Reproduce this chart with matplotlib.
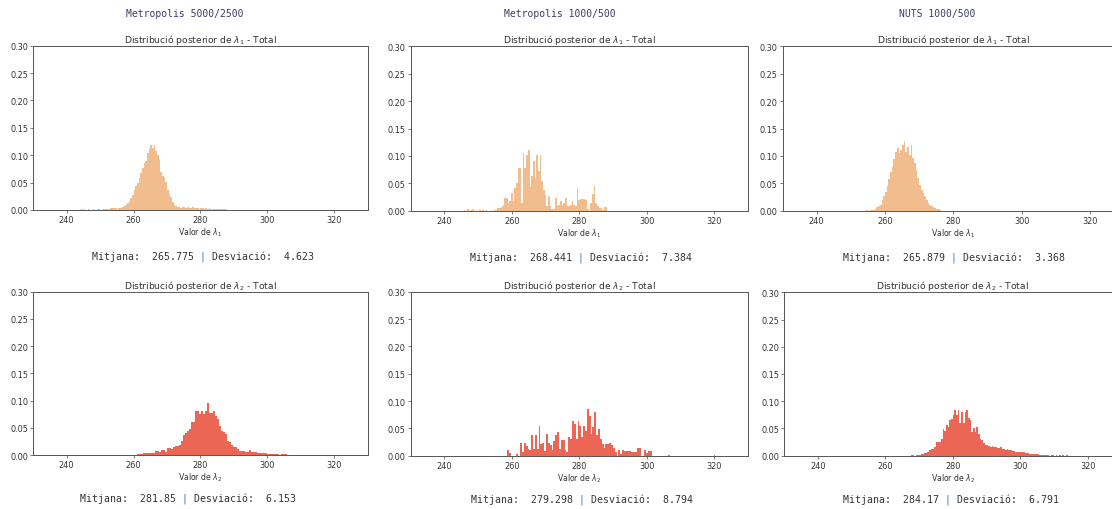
import numpy as np
import matplotlib.pyplot as plt

# column headers (sampler / draws / tune)
samplers = ["Metropolis 5000/2500", "Metropolis 1000/500", "NUTS 1000/500"]

# posterior summaries printed under each histogram
lam1_means = [265.775, 268.441, 265.879]
lam1_sds = [4.623, 7.384, 3.368]
lam2_means = [281.85, 279.298, 284.17]
lam2_sds = [6.153, 8.794, 6.791]

# histogram densities: first bin edge, bin width, bar heights
lam1_m5000_start, lam1_m5000_width = 244.0, 0.5
lam1_m5000 = [
    0.001, 0.0, 0.001, 0.0, 0.0, 0.001, 0.0, 0.0, 0.001, 0.0,
    0.001, 0.001, 0.0, 0.001, 0.001, 0.002, 0.002, 0.002, 0.003, 0.004,
    0.003, 0.003, 0.002, 0.003, 0.004, 0.005, 0.007, 0.009, 0.012, 0.016,
    0.022, 0.028, 0.036, 0.043, 0.050, 0.058, 0.068, 0.077, 0.085, 0.090,
    0.104, 0.112, 0.118, 0.113, 0.119, 0.108, 0.100, 0.093, 0.070, 0.062,
    0.058, 0.052, 0.037, 0.030, 0.024, 0.015, 0.010, 0.007, 0.006, 0.005,
    0.004, 0.006, 0.005, 0.004, 0.005, 0.004, 0.003, 0.005, 0.004, 0.003,
    0.004, 0.002, 0.004, 0.003, 0.002, 0.003, 0.002, 0.003, 0.002, 0.001,
    0.002, 0.001, 0.002, 0.001, 0.001, 0.001, 0.001, 0.001,
]

lam1_m1000_start, lam1_m1000_width = 245.75, 0.5
lam1_m1000 = [
    0.002, 0.0, 0.003, 0.0, 0.002, 0.003, 0.0, 0.002, 0.0, 0.001,
    0.0, 0.001, 0.0, 0.001, 0.0, 0.0, 0.001, 0.0, 0.001, 0.002,
    0.005, 0.005, 0.006, 0.010, 0.023, 0.023, 0.014, 0.017, 0.032, 0.017,
    0.041, 0.050, 0.078, 0.078, 0.014, 0.105, 0.078, 0.102, 0.110, 0.044,
    0.063, 0.091, 0.060, 0.102, 0.072, 0.101, 0.054, 0.038, 0.029, 0.008,
    0.026, 0.008, 0.004, 0.004, 0.024, 0.008, 0.011, 0.017, 0.011, 0.014,
    0.023, 0.008, 0.008, 0.011, 0.017, 0.011, 0.008, 0.041, 0.020, 0.021,
    0.021, 0.021, 0.020, 0.004, 0.0, 0.014, 0.030, 0.045, 0.014, 0.008,
    0.005, 0.005, 0.002, 0.006, 0.006,
]

lam1_nuts_start, lam1_nuts_width = 254.5, 0.5
lam1_nuts = [
    0.001, 0.0, 0.001, 0.001, 0.002, 0.004, 0.006, 0.009, 0.011, 0.020,
    0.026, 0.035, 0.045, 0.058, 0.070, 0.080, 0.094, 0.108, 0.114, 0.105,
    0.110, 0.120, 0.128, 0.108, 0.116, 0.102, 0.120, 0.096, 0.087, 0.075,
    0.060, 0.047, 0.038, 0.032, 0.026, 0.020, 0.014, 0.011, 0.008, 0.006,
    0.005, 0.003, 0.003, 0.001,
]

lam2_m5000_start, lam2_m5000_width = 261.0, 0.6
lam2_m5000 = [
    0.001, 0.001, 0.002, 0.003, 0.003, 0.003, 0.003, 0.004, 0.004, 0.007,
    0.007, 0.005, 0.009, 0.009, 0.005, 0.012, 0.012, 0.011, 0.014, 0.016,
    0.016, 0.018, 0.026, 0.036, 0.040, 0.045, 0.048, 0.060, 0.061, 0.080,
    0.080, 0.075, 0.080, 0.075, 0.080, 0.095, 0.078, 0.077, 0.081, 0.072,
    0.066, 0.053, 0.045, 0.042, 0.039, 0.026, 0.023, 0.018, 0.014, 0.014,
    0.011, 0.008, 0.008, 0.008, 0.005, 0.005, 0.009, 0.005, 0.005, 0.006,
    0.004, 0.004, 0.003, 0.003, 0.003, 0.002, 0.002, 0.002, 0.001, 0.001,
    0.001, 0.0, 0.001, 0.001, 0.001,
]

lam2_m1000_start, lam2_m1000_width = 258.6, 0.55
lam2_m1000 = [
    0.010, 0.005, 0.0, 0.0, 0.0, 0.003, 0.0, 0.023, 0.006, 0.023,
    0.018, 0.012, 0.011, 0.037, 0.012, 0.037, 0.013, 0.054, 0.021, 0.023,
    0.009, 0.040, 0.023, 0.020, 0.011, 0.026, 0.037, 0.044, 0.013, 0.029,
    0.028, 0.011, 0.006, 0.034, 0.031, 0.063, 0.058, 0.031, 0.064, 0.054,
    0.034, 0.055, 0.046, 0.085, 0.073, 0.040, 0.052, 0.080, 0.037, 0.049,
    0.031, 0.021, 0.015, 0.021, 0.021, 0.023, 0.020, 0.015, 0.006, 0.0,
    0.010, 0.003, 0.011, 0.009, 0.009, 0.009, 0.009, 0.007, 0.007, 0.006,
    0.014, 0.014, 0.0, 0.0, 0.010, 0.005, 0.009, 0.009,
]
# isolated draws far in the right tail
lam2_m1000_tail_x = [306.3, 319.8]
lam2_m1000_tail_h = [0.002, 0.002]

lam2_nuts_start, lam2_nuts_width = 267.5, 0.5
lam2_nuts = [
    0.001, 0.001, 0.0, 0.001, 0.001, 0.001, 0.003, 0.003, 0.005, 0.005,
    0.006, 0.010, 0.012, 0.012, 0.016, 0.026, 0.026, 0.026, 0.031, 0.049,
    0.045, 0.057, 0.053, 0.066, 0.067, 0.075, 0.083, 0.075, 0.083, 0.060,
    0.081, 0.060, 0.081, 0.083, 0.069, 0.066, 0.043, 0.051, 0.043, 0.053,
    0.039, 0.031, 0.028, 0.023, 0.020, 0.020, 0.017, 0.016, 0.018, 0.016,
    0.016, 0.014, 0.014, 0.016, 0.013, 0.013, 0.011, 0.012, 0.010, 0.010,
    0.008, 0.008, 0.007, 0.007, 0.007, 0.007, 0.006, 0.006, 0.005, 0.005,
    0.004, 0.004, 0.003, 0.003, 0.003, 0.003, 0.002, 0.002, 0.002, 0.002,
    0.001, 0.001, 0.0, 0.001, 0.001, 0.0, 0.001, 0.0, 0.001, 0.0,
    0.001, 0.0, 0.001,
]

LAM1_COLOR = "#F1BC8E"
LAM2_COLOR = "#EC6656"
TEXT_COLOR = "#333333"
HEAD_COLOR = "#3c3c64"
BAR_COLOR = "#3b7fc4"

W, H = 1112, 510


def px_rect(x0, x1, ytop, ybot):
    return [x0 / W, 1 - ybot / H, (x1 - x0) / W, (ybot - ytop) / H]


def draw_hist(ax, start, width, heights, color, idx):
    left = start + width * np.arange(len(heights))
    ax.bar(left, heights, width=width, align="edge", color=color, linewidth=0)
    ax.set_xlim(230, 330)
    ax.set_ylim(0, 0.30)
    ax.set_xticks([240, 260, 280, 300, 320])
    ax.set_yticks(np.arange(0, 0.301, 0.05))
    ax.yaxis.set_major_formatter(plt.FormatStrFormatter("%.2f"))
    ax.tick_params(labelsize=5.9, length=2, width=0.5, colors="#444444",
                   labelcolor=TEXT_COLOR, pad=1.5)
    for sp in ax.spines.values():
        sp.set_linewidth(0.7)
        sp.set_color("#555555")
    ax.set_title(f"Distribució posterior de $\\lambda_{idx}$ - Total",
                 fontsize=6.6, pad=3, color=TEXT_COLOR)
    ax.set_xlabel(f"Valor de $\\lambda_{idx}$", fontsize=5.6, labelpad=1.5,
                  color=TEXT_COLOR)


def stats_line(fig, x, y, mean, sd):
    s = f"Mitjana:  {mean} | Desviació:  {sd}"
    plain = s.replace("|", " ")
    sep = "".join("|" if c == "|" else " " for c in s)
    kw = dict(fontsize=7.15, family="DejaVu Sans Mono", ha="left", va="center")
    fig.text(x / W, 1 - y / H, plain, color=TEXT_COLOR, **kw)
    fig.text(x / W, 1 - y / H, sep, color=BAR_COLOR, **kw)


fig = plt.figure(figsize=(W / 100, H / 100), dpi=100)

top_rects = [px_rect(33.2, 367.7, 46.7, 211.0),
             px_rect(410.6, 748.0, 47.3, 211.7),
             px_rect(782.5, 1124.0, 47.3, 211.7)]
bot_rects = [px_rect(33.2, 367.7, 292.7, 456.0),
             px_rect(410.6, 748.0, 292.7, 456.7),
             px_rect(784.0, 1121.5, 293.3, 456.7)]

lam1_sets = [(lam1_m5000_start, lam1_m5000_width, lam1_m5000),
             (lam1_m1000_start, lam1_m1000_width, lam1_m1000),
             (lam1_nuts_start, lam1_nuts_width, lam1_nuts)]
lam2_sets = [(lam2_m5000_start, lam2_m5000_width, lam2_m5000),
             (lam2_m1000_start, lam2_m1000_width, lam2_m1000),
             (lam2_nuts_start, lam2_nuts_width, lam2_nuts)]

axes_top, axes_bot = [], []
for rect, (st, w, h) in zip(top_rects, lam1_sets):
    ax = fig.add_axes(rect)
    draw_hist(ax, st, w, h, LAM1_COLOR, 1)
    axes_top.append(ax)
for rect, (st, w, h) in zip(bot_rects, lam2_sets):
    ax = fig.add_axes(rect)
    draw_hist(ax, st, w, h, LAM2_COLOR, 2)
    axes_bot.append(ax)

axes_bot[1].bar(lam2_m1000_tail_x, lam2_m1000_tail_h, width=lam2_m1000_width,
                align="edge", color=LAM2_COLOR, linewidth=0)

# column headers
for name, xc in zip(samplers, [185, 560, 937.5]):
    fig.text(xc / W, 1 - 14 / H, name, fontsize=7.0, family="DejaVu Sans Mono",
             ha="center", va="center", color=HEAD_COLOR)

top_pos = [(91.7, 256.7), (470.0, 257.3), (843.3, 257.7)]
bot_pos = [(80.0, 498.3), (470.7, 499.3), (843.3, 500.0)]
for (x, y), m, s in zip(top_pos, lam1_means, lam1_sds):
    stats_line(fig, x, y, m, s)
for (x, y), m, s in zip(bot_pos, lam2_means, lam2_sds):
    stats_line(fig, x, y, m, s)

fig.savefig("out.png", dpi=100)
